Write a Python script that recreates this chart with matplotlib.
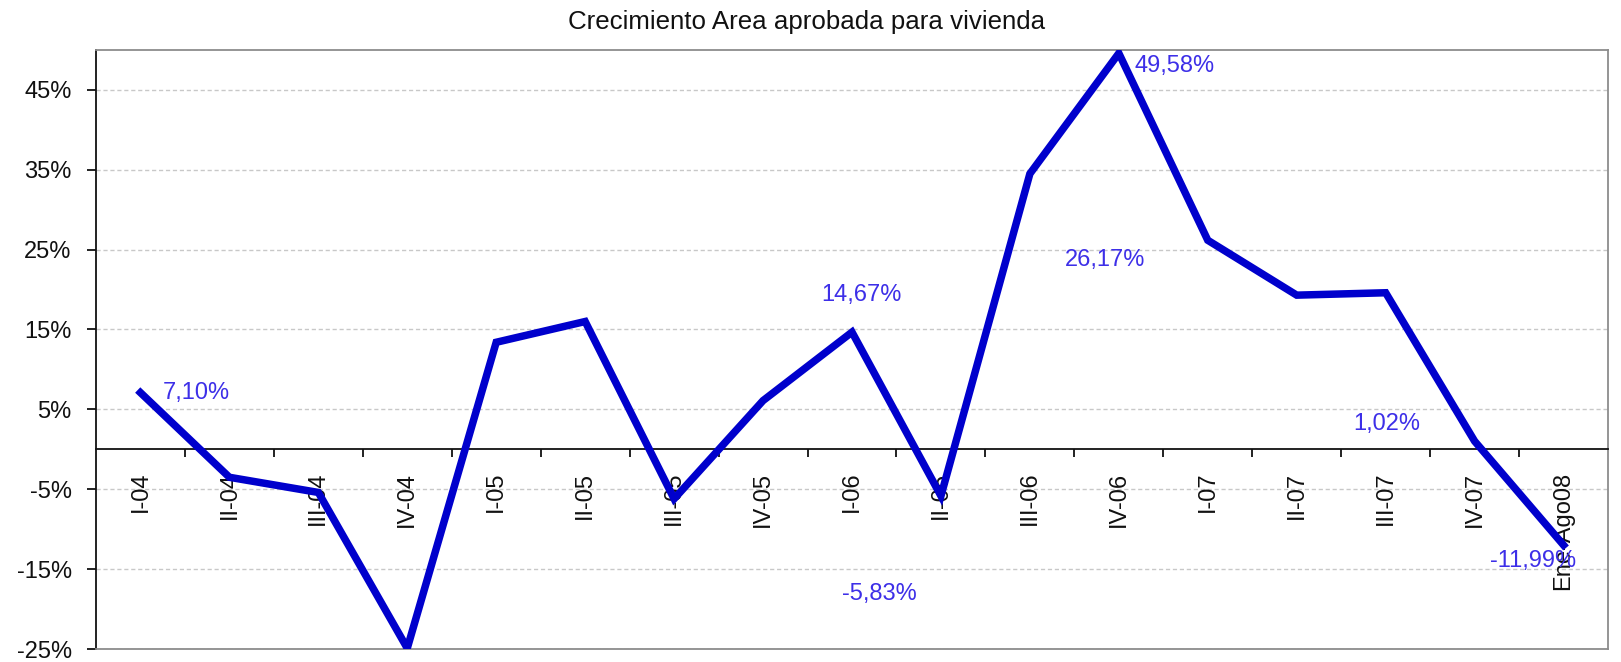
import matplotlib
matplotlib.use("Agg")
import matplotlib.pyplot as plt
import numpy as np
from matplotlib.ticker import FixedLocator, FuncFormatter

plt.rcParams["font.family"] = ["Liberation Sans", "DejaVu Sans"]

# Datos (crecimiento %)
categories = ["I-04", "II-04", "III-04", "IV-04", "I-05", "II-05", "III-05", "IV-05",
              "I-06", "II-06", "III-06", "IV-06", "I-07", "II-07", "III-07", "IV-07",
              "Ene-Ago08"]
values = [7.10, -3.5, -5.4, -24.9, 13.4, 16.0, -6.2, 6.1,
          14.67, -5.83, 34.5, 49.58, 26.17, 19.3, 19.6, 1.02,
          -11.99]
labelled = [0, 8, 9, 11, 12, 15, 16]
y_ticks = [-25, -15, -5, 5, 15, 25, 35, 45]

# desplazamientos de las etiquetas (px) respecto al punto
label_offsets = {0: (56, 0), 8: (9, 37), 9: (-62, -98), 11: (56, -13),
                 12: (-103, -20), 15: (-88, 17), 16: (-30, -16)}

FS = 17
LINE_C = "#0000cc"
LBL_C = "#3d2fe8"

fig = plt.figure(figsize=(16.21, 6.62), dpi=100)
fig.patch.set_facecolor("white")
ax = fig.add_axes([0.0592, 0.0196, 0.9328, 0.905])

x = np.arange(len(categories))
ax.plot(x, values, color=LINE_C, linewidth=5.4, solid_joinstyle="miter", zorder=4)

for i in labelled:
    v = values[i]
    txt = f"{v:.2f}%".replace(".", ",")
    ax.annotate(txt, (x[i], v), xytext=label_offsets[i], textcoords="offset pixels",
                ha="center", va="center", fontsize=FS, color=LBL_C, zorder=6)

ax.set_xlim(-0.5, len(categories) - 0.5)
ax.set_ylim(-25, 50)

# eje Y
ax.set_yticks(y_ticks)
ax.yaxis.set_major_formatter(FuncFormatter(lambda v, _: f"{v:.0f}%"))
ax.tick_params(axis="y", direction="out", length=6.5, width=1.3, pad=11,
               labelsize=FS, colors="#111")
for t in y_ticks:
    ax.axhline(t, color="#c8c8c8", linewidth=1.0, linestyle=(0, (3, 2)), zorder=1)

# eje X en cero: marcas entre categorías, etiquetas en el centro
ax.spines["bottom"].set_position(("data", 0))
ax.spines["bottom"].set_color("#111")
ax.spines["bottom"].set_linewidth(1.3)
ax.spines["bottom"].set_zorder(3)
ax.xaxis.set_major_locator(FixedLocator(x[:-1] + 0.5))
ax.xaxis.set_minor_locator(FixedLocator(x))
ax.xaxis.set_major_formatter(FuncFormatter(lambda v, _: ""))
ax.xaxis.set_minor_formatter(FuncFormatter(lambda v, p: categories[p]))
ax.tick_params(axis="x", which="major", direction="out", length=6, width=1.3,
               colors="#111")
ax.tick_params(axis="x", which="minor", length=0, pad=16, labelsize=FS,
               labelrotation=90, colors="#111")

ax.spines["left"].set_color("#111")
ax.spines["left"].set_linewidth(1.3)
for s in ("top", "right"):
    ax.spines[s].set_color("#8c8c8c")
    ax.spines[s].set_linewidth(1.3)
ax.plot([0, 1], [0, 0], transform=ax.transAxes, color="#8c8c8c",
        linewidth=1.3, clip_on=False, zorder=3)

fig.text(0.4975, 0.967, "Crecimiento Area aprobada para vivienda",
         ha="center", va="center", fontsize=18.6, color="#111")

fig.savefig("out.png", dpi=100, facecolor="white")
